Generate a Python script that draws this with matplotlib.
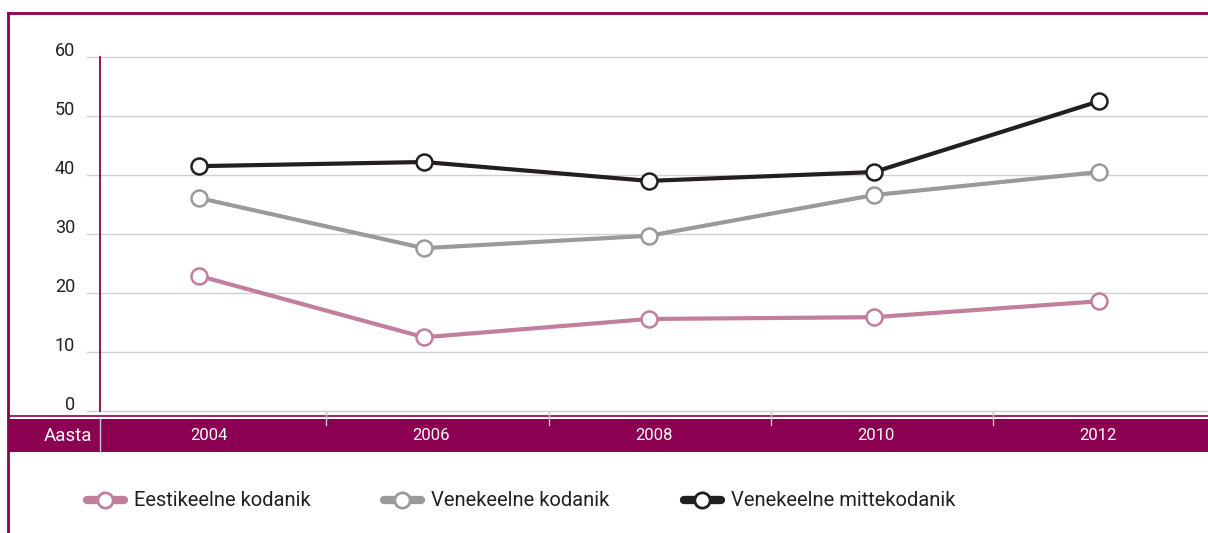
import matplotlib
matplotlib.use("Agg")
import matplotlib.pyplot as plt
from matplotlib.lines import Line2D
from matplotlib.patches import Rectangle

plt.rcParams["font.family"] = ["Roboto", "DejaVu Sans"]

years = ["2004", "2006", "2008", "2010", "2012"]
eesti_kodanik = [22.9, 12.5, 15.6, 15.9, 18.6]
vene_kodanik = [36.1, 27.6, 29.7, 36.6, 40.5]
vene_mittekodanik = [41.5, 42.2, 39.0, 40.5, 52.5]
series_names = ["Eestikeelne kodanik", "Venekeelne kodanik", "Venekeelne mittekodanik"]
yticks = [0, 10, 20, 30, 40, 50, 60]

MAGENTA = "#8b0050"
colors = ["#c27f9b", "#999a9c", "#231f20"]
TEXT = "#231f20"

W, H = 1208, 533
fig = plt.figure(figsize=(W / 100, H / 100), dpi=100)


def fx(px):
    return px / W


def fy(py):
    return 1 - py / H


# axes: x from 100 to 1208 px, y from 57 to 411 px
ax = fig.add_axes([fx(100), fy(411), fx(W - 100), fy(57) - fy(411)])
step = 225.0
first = 199.0
ax.set_xlim(-(first - 100) / step, (W - first) / step)
ax.set_ylim(0, 60)
for s in ax.spines.values():
    s.set_visible(False)
ax.set_xticks([])
ax.set_yticks([])

# gridlines extending left of the axis
x0 = ax.get_xlim()[0] - 13 / step
for t in yticks:
    ax.plot([x0, ax.get_xlim()[1]], [t, t], color="#d0d0d0", lw=1.0,
            clip_on=False, zorder=1)
    ax.text(x0 - 12 / step, t + 0.2, str(t), ha="right", va="baseline",
            fontsize=13, color=TEXT)

# magenta y axis line
ax.plot([ax.get_xlim()[0]] * 2, [0, 60], color=MAGENTA, lw=1.3,
        clip_on=False, zorder=2)

xs = list(range(len(years)))
for vals, c, name in zip([eesti_kodanik, vene_kodanik, vene_mittekodanik],
                         colors, series_names):
    ax.plot(xs, vals, color=c, lw=3.0, marker="o", markersize=11.5,
            markerfacecolor="white", markeredgecolor=c, markeredgewidth=1.8,
            solid_capstyle="round", label=name, zorder=3)

# frame around the figure
fig.add_artist(Line2D([fx(8), 1], [fy(13), fy(13)], color=MAGENTA, lw=2))
fig.add_artist(Line2D([fx(8), fx(8)], [fy(13), 0], color=MAGENTA, lw=2))

# category band
fig.add_artist(Line2D([fx(8), 1], [fy(416), fy(416)], color=MAGENTA, lw=1.2))
fig.add_artist(Rectangle((fx(8), fy(452)), 1 - fx(8), fy(419) - fy(452),
                         facecolor=MAGENTA, edgecolor="none"))
fig.add_artist(Line2D([fx(100), fx(100)], [fy(452), fy(419)], color="#c8c8c8", lw=1))
fig.text(fx(92), fy(436), "Aasta", ha="right", va="center", fontsize=13.5,
         color="white")
band_start, band_w = 104.0, 222.3
for i, y in enumerate(years):
    xc = band_start + band_w * (i + 0.5) - 6
    fig.text(fx(xc), fy(436), y, ha="center", va="center", fontsize=12,
             color="white")
    if i > 0:
        xb = band_start + band_w * i
        fig.add_artist(Line2D([fx(xb), fx(xb)], [fy(411), fy(425)],
                              color="#c8c8c8", lw=1))

# legend
leg_x = [83, 380, 680]
for lx, c, name in zip(leg_x, colors, series_names):
    fig.add_artist(Line2D([fx(lx + 4), fx(lx + 41)], [fy(500), fy(500)], color=c,
                          lw=6, solid_capstyle="round"))
    fig.add_artist(Line2D([fx(lx + 22)], [fy(500)], marker="o", markersize=11,
                          markerfacecolor="white", markeredgecolor=c,
                          markeredgewidth=2, linestyle="none"))
    fig.text(fx(lx + 51), fy(500), name, ha="left", va="center", fontsize=14.5,
             color=TEXT)

fig.savefig("out.png", dpi=100)
